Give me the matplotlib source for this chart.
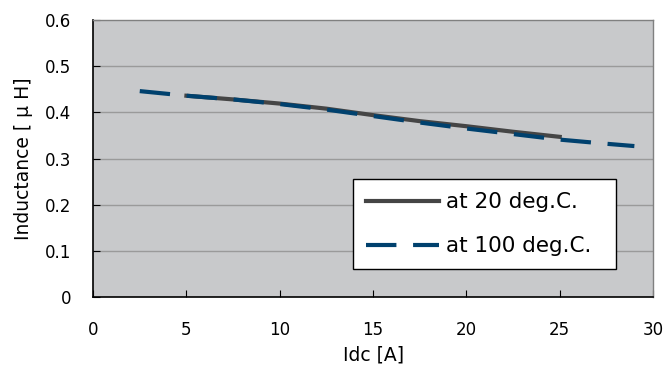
import matplotlib.pyplot as plt

plt.rcParams['font.family'] = ['DejaVu Sans', 'Noto Sans CJK JP']

idc_100 = [2.5, 5, 7.5, 10, 12.5, 15, 17.5, 20, 22.5, 25, 27.5, 29]
ind_100 = [0.446, 0.436, 0.428, 0.418, 0.406, 0.392, 0.378, 0.365, 0.353, 0.341, 0.332, 0.327]

idc_20 = [5, 7.5, 10, 12.5, 15, 17.5, 20, 22.5, 25]
ind_20 = [0.436, 0.428, 0.419, 0.408, 0.394, 0.381, 0.370, 0.358, 0.347]

xticks = [0, 5, 10, 15, 20, 25, 30]
yticks = [0, 0.1, 0.2, 0.3, 0.4, 0.5, 0.6]
ytick_labels = ['0', '0.1', '0.2', '0.3', '0.4', '0.5', '0.6']

fig = plt.figure(figsize=(6.65, 3.7), dpi=100)
ax = fig.add_axes([0.140, 0.197, 0.842, 0.749])
ax.set_facecolor('#c8c9cb')

for y in yticks[1:-1]:
    ax.axhline(y, color='#9a9a9a', lw=1.0, zorder=1)

ax.plot(idc_20, ind_20, color='#454545', lw=3, label='at 20 deg.C.', zorder=3)
ax.plot(idc_100, ind_100, color='#00416e', lw=3, dashes=(7.3, 4.0),
        label='at 100 deg.C.', zorder=4)

ax.set_xlim(0, 30)
ax.set_ylim(0, 0.6)
ax.set_xticks(xticks)
ax.set_yticks(yticks)
ax.set_yticklabels(ytick_labels)
ax.tick_params(axis='x', direction='in', length=5, pad=17, labelsize=12, colors='black')
ax.tick_params(axis='y', direction='in', length=5, pad=16, labelsize=12)

for s in ['left', 'bottom']:
    ax.spines[s].set_color('black')
    ax.spines[s].set_linewidth(1.2)
for s in ['top', 'right']:
    ax.spines[s].set_color('#808080')
    ax.spines[s].set_linewidth(1.0)

ax.set_xlabel('Idc [A]', fontsize=13.5, labelpad=5)
ax.set_ylabel('Inductance [ μ H]', fontsize=13.5, labelpad=8)

leg = ax.legend(loc='upper left', bbox_to_anchor=(0.464, 0.101, 0.470, 0.324),
                mode='expand', fontsize=15.5,
                frameon=True, fancybox=False, framealpha=1, edgecolor='black',
                handlelength=3.4, handletextpad=0.3, labelspacing=1.1,
                borderpad=0.61, borderaxespad=0)
leg.get_frame().set_linewidth(1.0)

fig.savefig('out.png', dpi=100)
